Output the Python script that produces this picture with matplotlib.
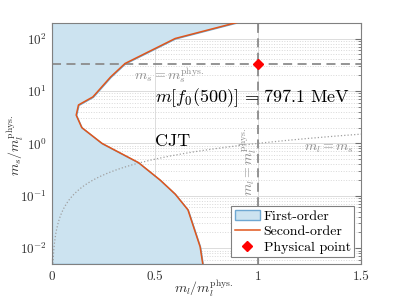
import numpy as np
import matplotlib
matplotlib.use('Agg')
import matplotlib.pyplot as plt

plt.rcParams['font.family'] = ['cmr10', 'DejaVu Serif']
plt.rcParams['mathtext.fontset'] = 'cm'
plt.rcParams['axes.formatter.use_mathtext'] = True

# second-order boundary (m_l/m_l^phys, m_s/m_l^phys)
ml_curve = [0.897, 0.598, 0.355, 0.285, 0.199, 0.129, 0.118, 0.145, 0.243,
            0.420, 0.525, 0.598, 0.660, 0.719, 0.732]
ms_curve = [202, 100, 33.4, 18.5, 7.7, 5.4, 3.46, 2.0, 1.0,
            0.43, 0.2, 0.108, 0.054, 0.0107, 0.005]

ml_phys = 1.0
ms_phys = 32.4
sym_line = np.linspace(0.001, 1.5, 400)   # m_l = m_s guide line

fig = plt.figure(figsize=(3.99, 2.99), dpi=100)
ax = fig.add_axes([0.130, 0.117, 0.775, 0.807])

ax.fill_betweenx(ms_curve, 0, ml_curve, facecolor='#cce3f0', edgecolor='#6fa8d2',
                 linewidth=1.0, label='First-order', zorder=1)
ax.plot(ml_curve, ms_curve, color='#e0561c', lw=1.1, label='Second-order', zorder=3)
ax.plot(sym_line, sym_line, color='#a0a0a0', ls=':', lw=0.9, zorder=2)
ax.axhline(ms_phys, color='#8c8c8c', ls=(0, (5, 3)), lw=1.3, zorder=2)
ax.axvline(ml_phys, color='#8c8c8c', ls=(0, (5, 3)), lw=1.3, zorder=2)
ax.plot([ml_phys], [ms_phys], marker='D', color='red', ms=5, ls='none',
        label='Physical point', zorder=4)

ax.set_yscale('log')
ax.set_xlim(0, 1.5)
ax.set_ylim(0.005, 200)
ax.set_xticks([0, 0.5, 1, 1.5])
ax.set_xticklabels(['0', '0.5', '1', '1.5'])

ax.grid(which='major', color='#dcdcdc', lw=0.7, zorder=0)
ax.grid(which='minor', axis='y', color='#d8d8d8', ls=':', lw=0.7, zorder=0)
ax.set_axisbelow(True)
ax.tick_params(which='both', direction='in', top=True, right=True, color='#707070',
               labelsize=9.5, labelcolor='#333333')
ax.tick_params(which='major', length=4)
ax.tick_params(which='minor', length=2)
ax.tick_params(axis='x', pad=5)
for s in ax.spines.values():
    s.set_color('#808080')
    s.set_linewidth(0.8)

ax.text(0.57, 20, r'$m_s = m_s^{\mathrm{phys.}}$', color='#909090', fontsize=10,
        ha='center', va='center')
ax.text(0.5, 7.4, r'$m[f_0(500)]\,=\,797.1\ \mathrm{MeV}$', fontsize=13,
        ha='left', va='center')
ax.text(0.5, 1.1, 'CJT', fontsize=13, ha='left', va='center')
ax.text(0.953, 0.45, r'$m_l = m_l^{\mathrm{phys.}}$', color='#909090', fontsize=10,
        rotation=90, ha='center', va='center')
ax.text(1.345, 0.8, r'$m_l = m_s$', color='#909090', fontsize=10,
        ha='center', va='center')

ax.set_xlabel(r'$m_l/m_l^{\mathrm{phys.}}$', fontsize=10, color='#333333')
ax.set_ylabel(r'$m_s/m_l^{\mathrm{phys.}}$', fontsize=10, color='#333333')
ax.xaxis.set_label_coords(0.49, -0.056)
ax.yaxis.set_label_coords(-0.085, 0.49)

leg = ax.legend(loc='lower right', fontsize=10, fancybox=False, framealpha=1,
                edgecolor='#808080', borderpad=0.25, handlelength=1.8,
                handletextpad=0.3, labelspacing=0.2, borderaxespad=0.5)
leg.get_frame().set_linewidth(0.8)

fig.savefig('out.png', dpi=100)
